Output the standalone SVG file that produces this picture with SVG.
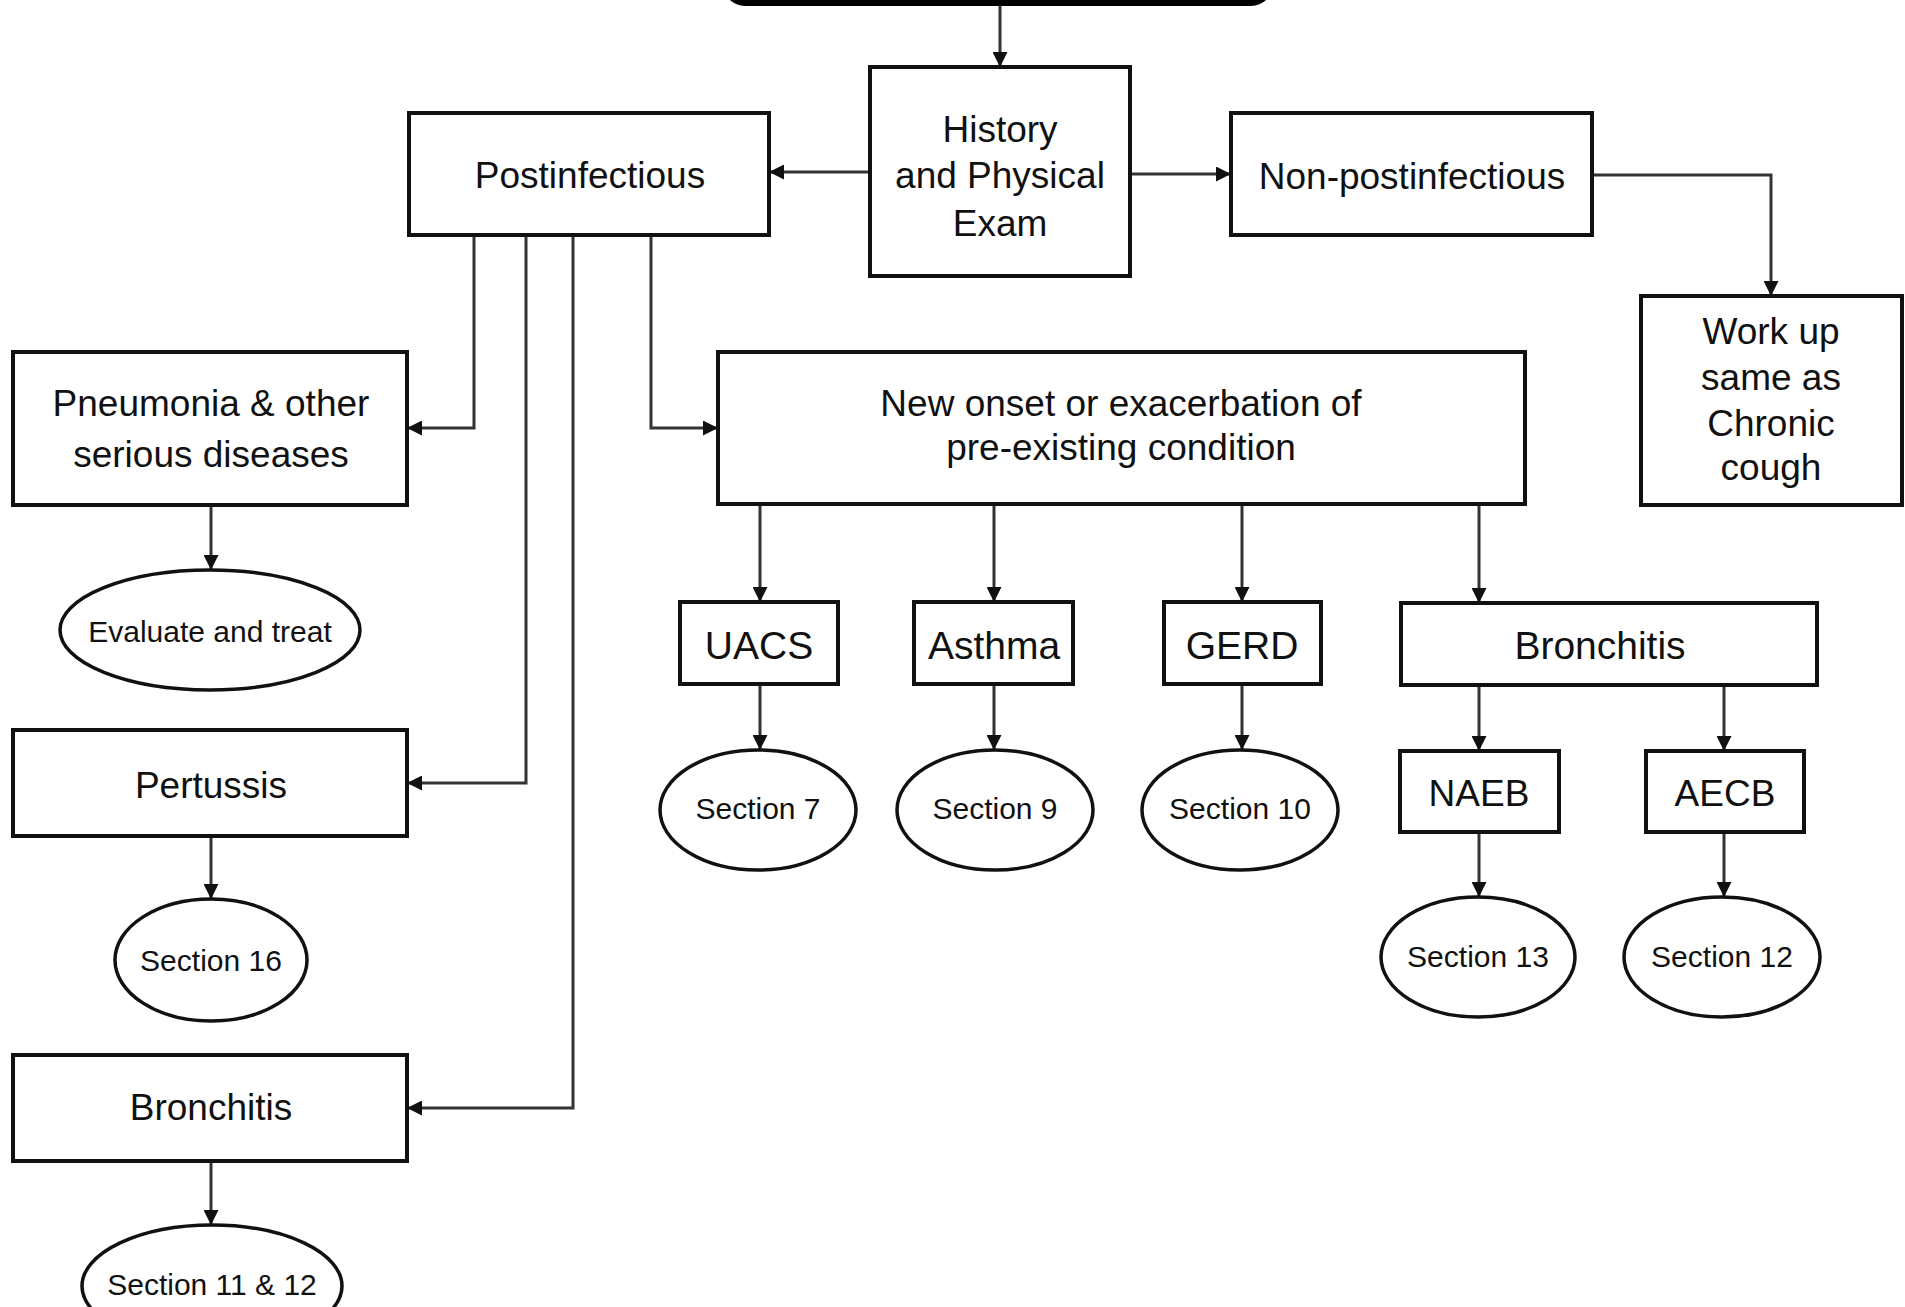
<svg xmlns="http://www.w3.org/2000/svg" width="1905" height="1307" viewBox="0 0 1905 1307">
<defs>
<marker id="ah" viewBox="0 0 10 10" refX="10" refY="5" markerWidth="5" markerHeight="5" markerUnits="strokeWidth" orient="auto">
<path d="M0,0 L10,5 L0,10 z" fill="#111"/>
</marker>
</defs>
<style>
.box{fill:#fff;stroke:#111;stroke-width:4}
.ell{fill:#fff;stroke:#111;stroke-width:3.5}
.t{font-family:"Liberation Sans",Arial,sans-serif;fill:#111;text-anchor:middle}
.big{font-size:37px}
.mid{font-size:39px}
.sm{font-size:30px}
.c{fill:none;stroke:#333;stroke-width:3;marker-end:url(#ah)}
</style>
<rect width="1905" height="1307" fill="#fff"/>
<g id="start"><rect x="723" y="-40" width="550" height="46" rx="22" fill="#000"/></g>
<g id="connectors">
<path class="c" d="M1000,6 V67"/>
<path class="c" d="M870,172 H769"/>
<path class="c" d="M1130,174 H1231"/>
<path class="c" d="M1592,175 H1771 V296"/>
<path class="c" d="M474,235 V428 H407"/>
<path class="c" d="M526,235 V783 H407"/>
<path class="c" d="M573,235 V1108 H407"/>
<path class="c" d="M651,235 V428 H718"/>
<path class="c" d="M211,505 V570"/>
<path class="c" d="M211,836 V899"/>
<path class="c" d="M211,1161 V1225"/>
<path class="c" d="M760,504 V602"/>
<path class="c" d="M994,504 V602"/>
<path class="c" d="M1242,504 V602"/>
<path class="c" d="M1479,504 V603"/>
<path class="c" d="M760,684 V750"/>
<path class="c" d="M994,684 V750"/>
<path class="c" d="M1242,684 V750"/>
<path class="c" d="M1479,685 V751"/>
<path class="c" d="M1724,685 V751"/>
<path class="c" d="M1479,832 V897"/>
<path class="c" d="M1724,832 V897"/>
</g>
<g id="history"><rect class="box" x="870" y="67" width="260" height="209"/>
<text class="t big" x="1000" y="142">History</text>
<text class="t big" x="1000" y="188">and Physical</text>
<text class="t big" x="1000" y="236">Exam</text></g>
<g id="postinfectious"><rect class="box" x="409" y="113" width="360" height="122"/>
<text class="t big" x="590" y="188">Postinfectious</text></g>
<g id="nonpost"><rect class="box" x="1231" y="113" width="361" height="122"/>
<text class="t big" x="1412" y="189">Non-postinfectious</text></g>
<g id="workup"><rect class="box" x="1641" y="296" width="261" height="209"/>
<text class="t big" x="1771" y="344">Work up</text>
<text class="t big" x="1771" y="390">same as</text>
<text class="t big" x="1771" y="436">Chronic</text>
<text class="t big" x="1771" y="480">cough</text></g>
<g id="pneumonia"><rect class="box" x="13" y="352" width="394" height="153"/>
<text class="t big" x="211" y="416">Pneumonia &amp; other</text>
<text class="t big" x="211" y="467">serious diseases</text></g>
<g id="evaluate"><ellipse class="ell" cx="210" cy="630" rx="150" ry="60"/>
<text class="t sm" x="210" y="642">Evaluate and treat</text></g>
<g id="pertussis"><rect class="box" x="13" y="730" width="394" height="106"/>
<text class="t big" x="211" y="798">Pertussis</text></g>
<g id="sec16"><ellipse class="ell" cx="211" cy="960" rx="96" ry="61"/>
<text class="t sm" x="211" y="971">Section 16</text></g>
<g id="bronchitis-left"><rect class="box" x="13" y="1055" width="394" height="106"/>
<text class="t big" x="211" y="1120">Bronchitis</text></g>
<g id="sec1112"><ellipse class="ell" cx="212" cy="1286" rx="130" ry="61"/>
<text class="t sm" x="212" y="1295">Section 11 &amp; 12</text></g>
<g id="newonset"><rect class="box" x="718" y="352" width="807" height="152"/>
<text class="t big" x="1121" y="416">New onset or exacerbation of</text>
<text class="t big" x="1121" y="460">pre-existing condition</text></g>
<g id="uacs"><rect class="box" x="680" y="602" width="158" height="82"/>
<text class="t mid" x="759" y="659">UACS</text></g>
<g id="asthma"><rect class="box" x="914" y="602" width="159" height="82"/>
<text class="t mid" x="994" y="659">Asthma</text></g>
<g id="gerd"><rect class="box" x="1164" y="602" width="157" height="82"/>
<text class="t mid" x="1242" y="659">GERD</text></g>
<g id="bronchitis-right"><rect class="box" x="1401" y="603" width="416" height="82"/>
<text class="t mid" x="1600" y="659">Bronchitis</text></g>
<g id="sec7"><ellipse class="ell" cx="758" cy="810" rx="98" ry="60"/>
<text class="t sm" x="758" y="819">Section 7</text></g>
<g id="sec9"><ellipse class="ell" cx="995" cy="810" rx="98" ry="60"/>
<text class="t sm" x="995" y="819">Section 9</text></g>
<g id="sec10"><ellipse class="ell" cx="1240" cy="810" rx="98" ry="60"/>
<text class="t sm" x="1240" y="819">Section 10</text></g>
<g id="naeb"><rect class="box" x="1400" y="751" width="159" height="81"/>
<text class="t big" x="1479" y="806">NAEB</text></g>
<g id="aecb"><rect class="box" x="1646" y="751" width="158" height="81"/>
<text class="t big" x="1725" y="806">AECB</text></g>
<g id="sec13"><ellipse class="ell" cx="1478" cy="957" rx="97" ry="60"/>
<text class="t sm" x="1478" y="967">Section 13</text></g>
<g id="sec12"><ellipse class="ell" cx="1722" cy="957" rx="98" ry="60"/>
<text class="t sm" x="1722" y="967">Section 12</text></g>
</svg>
